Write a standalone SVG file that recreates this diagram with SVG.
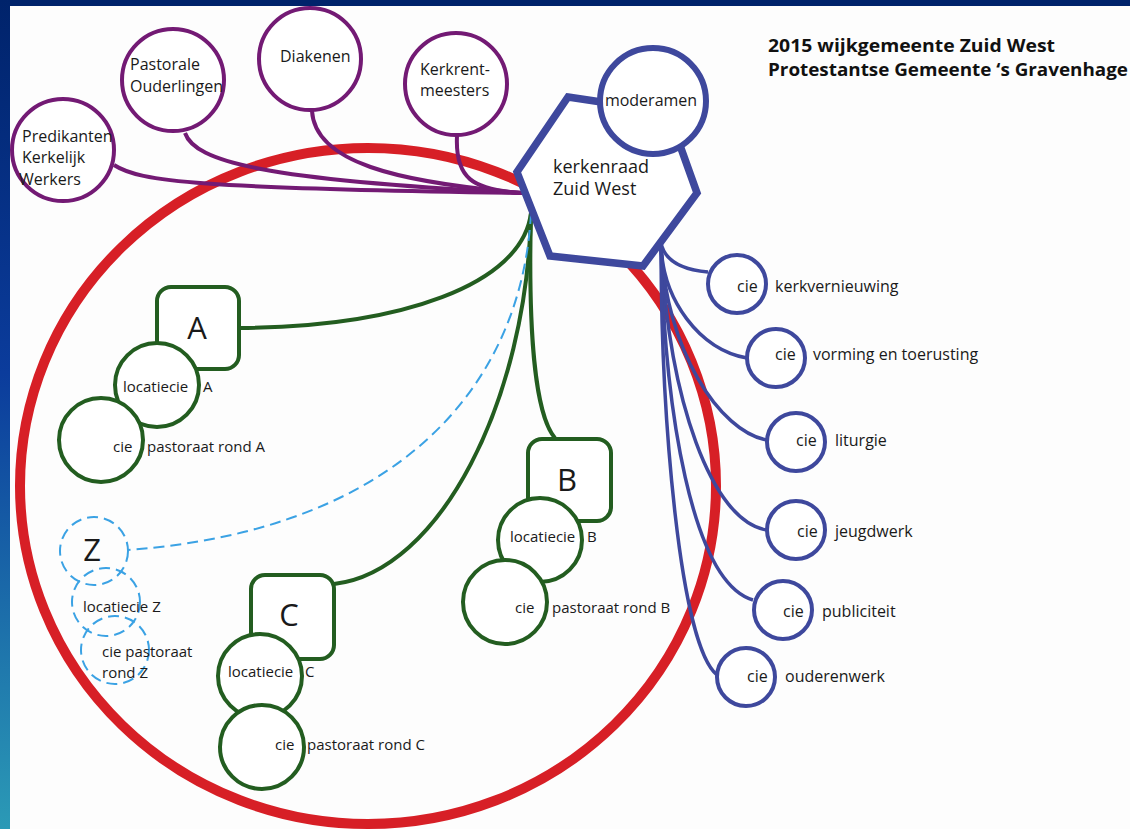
<svg xmlns="http://www.w3.org/2000/svg" width="1130" height="829" viewBox="0 0 1130 829">
<defs>
<linearGradient id="lg" x1="0" y1="0" x2="0" y2="1">
<stop offset="0" stop-color="#00236b"/>
<stop offset="0.45" stop-color="#0b3c9c"/>
<stop offset="1" stop-color="#2b9ab6"/>
</linearGradient>
<style>
text{font-family:"Open Sans","Noto Sans",sans-serif;fill:#1a1a1a}
.t16{font-size:16px}
.t15{font-size:15px}
.big{font-size:31px}
.title{font-size:18.5px;font-weight:bold;fill:#111}
.pur{fill:#fff;stroke:#731a74;stroke-width:4}
.grn{fill:#fff;stroke:#235d20;stroke-width:4}
.blu{fill:#fff;stroke:#3e489d;stroke-width:4}
.cy{fill:none;stroke:#3ba2e4;stroke-width:2;stroke-dasharray:11 6}
.cp{fill:none;stroke:#731a74;stroke-width:4}
.cg{fill:none;stroke:#235d20;stroke-width:4}
.cb{fill:none;stroke:#3e489d;stroke-width:3.5}
</style>
</defs>
<rect x="0" y="0" width="1130" height="829" fill="#fdfdfd"/>
<rect x="0" y="0" width="1130" height="6" fill="#00236b"/>
<rect x="0" y="0" width="10" height="829" fill="url(#lg)"/>

<ellipse id="ring" cx="368" cy="486" rx="348" ry="338" fill="none" stroke="#d71f26" stroke-width="10"/>

<g id="connectors">
<path class="cp" d="M114,165 C140,182 200,188 522,193"/>
<path class="cp" d="M185,133 C195,162 265,180 522,193"/>
<path class="cp" d="M312,111 C315,162 395,182 522,193"/>
<path class="cp" d="M457,136 C455,178 472,190 522,193"/>
<path class="cg" d="M531,213 C522,285 400,327 239,328"/>
<path class="cg" d="M531,213 C528,330 535,415 555,438"/>
<path class="cg" d="M531,213 C527,400 440,572 334,584"/>
<path class="cy" d="M531,213 C522,385 400,530 128,550"/>
<path class="cb" d="M661,243 C665,262 685,270 708,272"/>
<path class="cb" d="M661,243 C662,300 700,350 747,358"/>
<path class="cb" d="M661,243 C665,350 720,432 767,440"/>
<path class="cb" d="M661,243 C668,400 712,522 767,530"/>
<path class="cb" d="M661,243 C664,410 692,582 753,600"/>
<path class="cb" d="M661,243 C661,420 680,645 717,675"/>
</g>

<g id="title">
<text class="title" x="768" y="52" textLength="287" lengthAdjust="spacingAndGlyphs">2015 wijkgemeente Zuid West</text>
<text class="title" x="768" y="76" textLength="360" lengthAdjust="spacingAndGlyphs">Protestantse Gemeente ‘s Gravenhage</text>
</g>

<g id="predikanten">
<circle class="pur" cx="63" cy="150" r="51"/>
<text class="t16" x="22" y="142">Predikanten</text>
<text class="t16" x="22" y="163">Kerkelijk</text>
<text class="t16" x="19" y="185">Werkers</text>
</g>
<g id="pastorale">
<circle class="pur" cx="173" cy="80" r="51"/>
<text class="t16" x="130" y="70">Pastorale</text>
<text class="t16" x="130" y="92">Ouderlingen</text>
</g>
<g id="diakenen">
<circle class="pur" cx="310" cy="59" r="51"/>
<text class="t16" x="280" y="62">Diakenen</text>
</g>
<g id="kerkrentmeesters">
<circle class="pur" cx="456" cy="84" r="51"/>
<text class="t16" x="420" y="75">Kerkrent-</text>
<text class="t16" x="420" y="96">meesters</text>
</g>

<g id="kerkenraad">
<polygon points="568,97 668,112 697,193 643,266 550,256 517,172" fill="#fff" stroke="#3e489d" stroke-width="7.5" stroke-linejoin="miter"/>
<text x="553" y="173" font-size="18">kerkenraad</text>
<text x="553" y="195" font-size="18">Zuid West</text>
</g>
<g id="moderamen">
<circle cx="653" cy="101" r="53" fill="#fff" stroke="#3e489d" stroke-width="6"/>
<text class="t16" x="651" y="106" text-anchor="middle">moderamen</text>
</g>

<g id="groep-a">
<rect class="grn" x="157" y="287" width="82" height="82" rx="14"/>
<text class="big" x="197" y="339" text-anchor="middle">A</text>
<circle class="grn" cx="157" cy="385" r="42"/>
<text class="t15" x="123" y="392">locatiecie</text>
<text class="t15" x="203" y="392">A</text>
<circle class="grn" cx="101" cy="440" r="42"/>
<text class="t15" x="113" y="452">cie</text>
<text class="t15" x="147" y="452">pastoraat rond A</text>
</g>

<g id="groep-b">
<rect class="grn" x="528" y="439" width="83" height="82" rx="14"/>
<text class="big" x="567" y="491" text-anchor="middle">B</text>
<circle class="grn" cx="540" cy="540" r="42"/>
<text class="t15" x="510" y="542">locatiecie</text>
<text class="t15" x="587" y="542">B</text>
<circle class="grn" cx="505" cy="602" r="42"/>
<text class="t15" x="515" y="613">cie</text>
<text class="t15" x="552" y="613">pastoraat rond B</text>
</g>

<g id="groep-c">
<rect class="grn" x="251" y="575" width="83" height="84" rx="14"/>
<text class="big" x="289" y="626" text-anchor="middle">C</text>
<circle class="grn" cx="260" cy="676" r="42"/>
<text class="t15" x="228" y="677">locatiecie</text>
<text class="t15" x="305" y="677">C</text>
<circle class="grn" cx="262" cy="747" r="42"/>
<text class="t15" x="275" y="750">cie</text>
<text class="t15" x="307" y="750">pastoraat rond C</text>
</g>

<g id="groep-z">
<circle class="cy" cx="94" cy="551" r="34"/>
<text class="big" x="92" y="561" text-anchor="middle">Z</text>
<circle class="cy" cx="106" cy="602" r="34"/>
<text class="t15" x="83" y="612">locatiecie Z</text>
<circle class="cy" cx="115" cy="650" r="34"/>
<text class="t15" x="102" y="657">cie pastoraat</text>
<text class="t15" x="102" y="678">rond Z</text>
</g>

<g id="cie-kerkvernieuwing">
<circle class="blu" cx="737" cy="284" r="29"/>
<text class="t16" x="737" y="292">cie</text>
<text class="t16" x="775" y="292">kerkvernieuwing</text>
</g>
<g id="cie-vorming">
<circle class="blu" cx="776" cy="358" r="29"/>
<text class="t16" x="775" y="360">cie</text>
<text class="t16" x="813" y="360">vorming en toerusting</text>
</g>
<g id="cie-liturgie">
<circle class="blu" cx="796" cy="442" r="29"/>
<text class="t16" x="796" y="446">cie</text>
<text class="t16" x="835" y="446">liturgie</text>
</g>
<g id="cie-jeugdwerk">
<circle class="blu" cx="796" cy="530" r="29"/>
<text class="t16" x="797" y="537">cie</text>
<text class="t16" x="835" y="537">jeugdwerk</text>
</g>
<g id="cie-publiciteit">
<circle class="blu" cx="783" cy="610" r="29"/>
<text class="t16" x="783" y="617">cie</text>
<text class="t16" x="822" y="617">publiciteit</text>
</g>
<g id="cie-ouderenwerk">
<circle class="blu" cx="746" cy="677" r="29"/>
<text class="t16" x="747" y="682">cie</text>
<text class="t16" x="785" y="682">ouderenwerk</text>
</g>
</svg>
